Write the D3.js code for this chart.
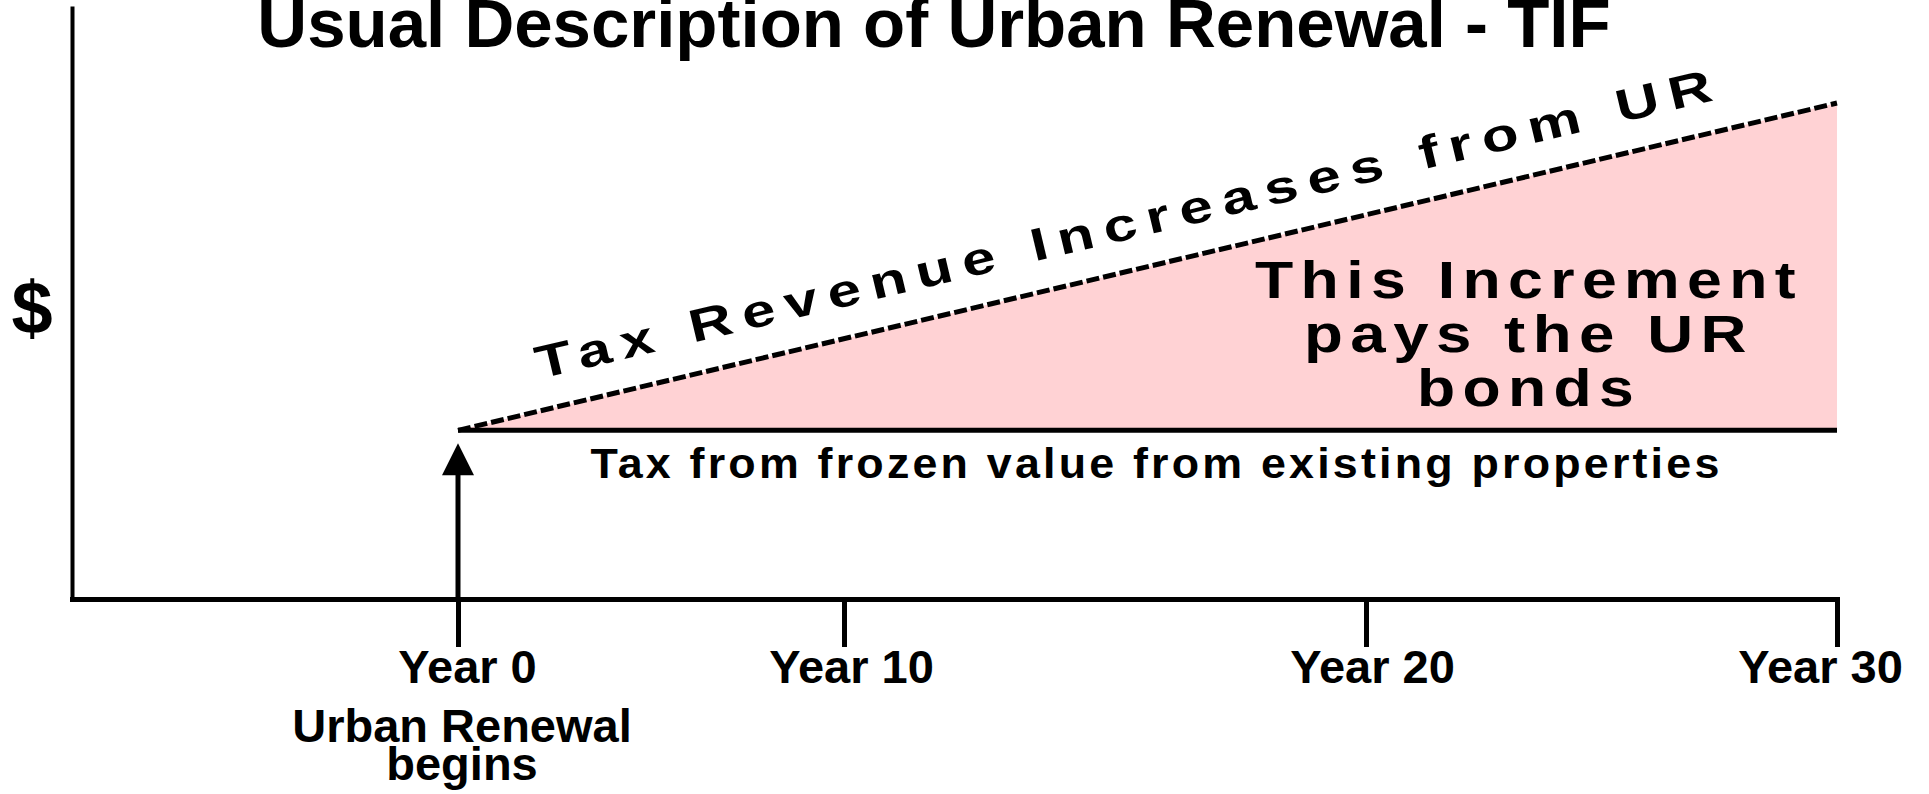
<!DOCTYPE html>
<html>
<head>
<meta charset="utf-8">
<script src="https://cdn.jsdelivr.net/npm/d3@7"></script>
<style>
  body { margin: 0; background: #fff; }
  svg text { font-family: "Liberation Sans", Arial, Helvetica, sans-serif; font-weight: bold; fill: #000; }
</style>
</head>
<body>
<div id="chart"></div>
<script>
// chart values
const years = [0, 10, 20, 30];
const tickLabels = ["Year 0", "Year 10", "Year 20", "Year 30"];
const spanYears = [0, 30];            // urban renewal period
const frozenTax = [34, 34];           // tax from frozen value
const totalTax = [34, 100];           // tax revenue with UR increases
const incrementLines = ["This Increment", "pays the UR", "bonds"];
const startLines = ["Urban Renewal", "begins"];

const width = 1929, height = 794;

const svg = d3.select("#chart")
    .append("svg")
    .attr("width", width)
    .attr("height", height);

// the original ticks are not evenly spaced, so use a piecewise scale
const x = d3.scaleLinear()
    .domain([-10, 0, 10, 20, 30])
    .range([72, 458, 844, 1366, 1837]);

const y = d3.scaleLinear()
    .domain([0, 100])
    .range([599, 103]);

// increment area
const area = d3.area()
    .x(d => x(d.year))
    .y0(d => y(d.frozen))
    .y1(d => y(d.total));

const spanData = spanYears.map((yr, i) => ({ year: yr, frozen: frozenTax[i], total: totalTax[i] }));

svg.append("path")
    .datum(spanData)
    .attr("d", area)
    .attr("fill", "#ffd2d4");

// frozen line
svg.append("path")
    .datum(spanData)
    .attr("d", d3.line().x(d => x(d.year)).y(d => y(d.frozen)))
    .attr("stroke", "#000")
    .attr("stroke-width", 5)
    .attr("fill", "none");

// revenue line (dashed)
svg.append("path")
    .datum(spanData)
    .attr("d", d3.line().x(d => x(d.year)).y(d => y(d.total)))
    .attr("stroke", "#000")
    .attr("stroke-width", 5)
    .attr("stroke-dasharray", "13,4")
    .attr("fill", "none");

// x axis
const xAxis = d3.axisBottom(x)
    .tickValues(years)
    .tickSize(48)
    .tickSizeOuter(0)
    .tickPadding(3)
    .tickFormat((d, i) => tickLabels[i]);

const labelShift = [9, 7, 6, -17];

const gx = svg.append("g")
    .attr("transform", `translate(0,${y(0)})`)
    .call(xAxis);

gx.select(".domain")
    .attr("stroke-width", 5)
    .attr("stroke-linecap", "square");
gx.selectAll(".tick line").attr("stroke-width", 5);
gx.selectAll(".tick text")
    .attr("font-size", 47)
    .attr("font-family", null)
    .attr("dx", (d, i) => labelShift[i]);

// y axis, no ticks
const gy = svg.append("g")
    .attr("transform", `translate(${x(-10)},0)`)
    .call(d3.axisLeft(y.copy().domain([0, 119]).range([599, 6])).tickValues([]).tickSizeOuter(0));
gy.select(".domain").attr("stroke-width", 4);

// arrow at year 0
svg.append("path")
    .attr("d", `M${x(0)},${y(frozenTax[0]) + 13} l16,32 l-32,0 z`)
    .attr("fill", "#000");
svg.append("line")
    .attr("x1", x(0)).attr("x2", x(0))
    .attr("y1", y(frozenTax[0]) + 44).attr("y2", y(0))
    .attr("stroke", "#000")
    .attr("stroke-width", 5);

// title
svg.append("text")
    .attr("x", 934)
    .attr("y", 47)
    .attr("text-anchor", "middle")
    .attr("font-size", 69)
    .text("Usual Description of Urban Renewal - TIF");

// $ label
svg.append("text")
    .attr("x", 32)
    .attr("y", 333)
    .attr("text-anchor", "middle")
    .attr("font-size", 74)
    .text("$");

// rotated label along revenue line
const angle = Math.atan2(y(totalTax[1]) - y(totalTax[0]), x(spanYears[1]) - x(spanYears[0])) * 180 / Math.PI;
const startYear = 2.3;
const sx = x(startYear);
const sy = y(totalTax[0]) + (y(totalTax[1]) - y(totalTax[0])) * (sx - x(0)) / (x(30) - x(0));
svg.append("text")
    .attr("transform", `translate(${sx},${sy}) rotate(${angle})`)
    .attr("x", 0)
    .attr("y", -31)
    .attr("font-size", 46)
    .attr("letter-spacing", 8)
    .attr("textLength", 1218)
    .attr("lengthAdjust", "spacingAndGlyphs")
    .text("Tax Revenue Increases from UR");

// frozen value label
svg.append("text")
    .attr("x", (x(0) + x(30)) / 2 + 9)
    .attr("y", y(frozenTax[0]) + 48)
    .attr("text-anchor", "middle")
    .attr("font-size", 42)
    .attr("letter-spacing", 3)
    .attr("textLength", 1132)
    .attr("lengthAdjust", "spacingAndGlyphs")
    .text("Tax from frozen value from existing properties");

// increment label
const incWidths = [548, 450, 224];
svg.append("g")
    .selectAll("text")
    .data(incrementLines)
    .join("text")
    .attr("x", 1529)
    .attr("y", (d, i) => 298 + i * 54)
    .attr("text-anchor", "middle")
    .attr("font-size", 51)
    .attr("letter-spacing", 6)
    .attr("textLength", (d, i) => incWidths[i])
    .attr("lengthAdjust", "spacingAndGlyphs")
    .text(d => d);

// start label under year 0
svg.append("g")
    .selectAll("text")
    .data(startLines)
    .join("text")
    .attr("x", x(0) + 4)
    .attr("y", (d, i) => 742 + i * 38)
    .attr("text-anchor", "middle")
    .attr("font-size", 47)
    .text(d => d);
</script>
</body>
</html>
